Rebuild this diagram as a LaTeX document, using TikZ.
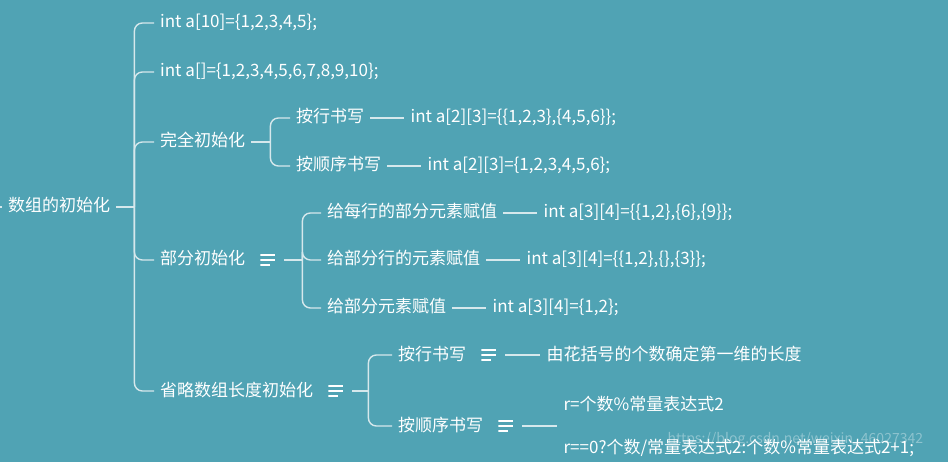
\documentclass[tikz,border=0pt]{standalone}
\usepackage{fontspec}
\setmainfont{Noto Sans CJK SC}
\usetikzlibrary{calc, positioning}
\definecolor{naodaobg}{RGB}{80,163,180}
\definecolor{naodaoxian}{RGB}{214,232,236}

\begin{document}
\begin{tikzpicture}[x=1pt, y=-1pt,
    font=\fontsize{17}{20}\selectfont,
    wenzi/.style={anchor=west, text=white, inner xsep=6pt, inner ysep=0pt},
    jiedian/.style={wenzi, text height=13pt, text depth=3pt},
    lianxian/.style={draw=naodaoxian, line width=1.4pt, rounded corners=8pt},
    beizhu/.style={minimum width=15pt, minimum height=12pt, inner sep=0pt, outer xsep=9pt,
      path picture={
        \draw[white, line width=1.8pt]
          ($(path picture bounding box.north west)+(0pt,-1pt)$) -- ($(path picture bounding box.north east)+(0pt,-1pt)$)
          (path picture bounding box.west) -- (path picture bounding box.east)
          ($(path picture bounding box.south west)+(0pt,1pt)$) -- ($(path picture bounding box.south east)+(-5pt,1pt)$);
      }},
    shuiyin/.style={anchor=west, text=white, opacity=0.35, font=\fontsize{14}{16}\selectfont}
  ]
    \fill[naodaobg] (0,0) rectangle (948,462);
    \useasboundingbox (0,0) rectangle (948,462);

    % root
    \coordinate (zuobian) at (0,207);
    \node[jiedian] (root) at (2,207) {数组的初始化};
    \draw[lianxian] (zuobian) -- (root.west);

    % level 1
    \node[jiedian] (a1) at (154,23)  {int a[10]=\{1,2,3,4,5\};};
    \node[jiedian] (a2) at (154,72)  {int a[]=\{1,2,3,4,5,6,7,8,9,10\};};
    \node[jiedian] (wq) at (154,142) {完全初始化};
    \node[jiedian] (bf) at (154,260) {部分初始化};
    \node[beizhu, right=0pt of bf] (bfbz) {};
    \node[jiedian] (sl) at (154,391) {省略数组长度初始化};
    \node[beizhu, right=0pt of sl] (slbz) {};

    \draw[lianxian] (root.east) -- ++(18,0) coordinate (rootfen);
    \foreach \n in {a1,a2,wq,bf,sl} \draw[lianxian] (rootfen) |- (\n.west);

    % 完全初始化
    \node[jiedian] (wqhang) at (290,118) {按行书写};
    \node[jiedian, right=34pt of wqhang] (wqhangdm) {int a[2][3]=\{\{1,2,3\},\{4,5,6\}\};};
    \node[jiedian] (wqshun) at (290,166) {按顺序书写};
    \node[jiedian, right=34pt of wqshun] (wqshundm) {int a[2][3]=\{1,2,3,4,5,6\};};

    \draw[lianxian] (wq.east) -- ++(19,0) coordinate (wqfen);
    \foreach \n in {wqhang,wqshun} \draw[lianxian] (wqfen) |- (\n.west);
    \draw[lianxian] (wqhang) -- (wqhangdm);
    \draw[lianxian] (wqshun) -- (wqshundm);

    % 部分初始化
    \node[jiedian] (bf1) at (321,213) {给每行的部分元素赋值};
    \node[jiedian, right=34pt of bf1] (bf1dm) {int a[3][4]=\{\{1,2\},\{6\},\{9\}\};};
    \node[jiedian] (bf2) at (321,260) {给部分行的元素赋值};
    \node[jiedian, right=34pt of bf2] (bf2dm) {int a[3][4]=\{\{1,2\},\{\},\{3\}\};};
    \node[jiedian] (bf3) at (321,308) {给部分元素赋值};
    \node[jiedian, right=34pt of bf3] (bf3dm) {int a[3][4]=\{1,2\};};

    \draw[lianxian] (bfbz.east) -- ++(18,0) coordinate (bffen);
    \foreach \n in {bf1,bf2,bf3} \draw[lianxian] (bffen) |- (\n.west);
    \foreach \n in {bf1,bf2,bf3} \draw[lianxian] (\n) -- (\n dm);

    % 省略数组长度初始化
    \node[jiedian] (slhang) at (392,355) {按行书写};
    \node[beizhu, right=0pt of slhang] (slhangbz) {};
    \node[jiedian, right=35pt of slhangbz] (slhangsm) {由花括号的个数确定第一维的长度};
    \node[jiedian] (slshun) at (392,426) {按顺序书写};
    \node[beizhu, right=0pt of slshun] (slshunbz) {};
    \node[wenzi, align=left, right=35pt of slshunbz] (slshunsm)
      {r=个数\%常量表达式2\\[23pt]r==0?个数/常量表达式2:个数\%常量表达式2+1;};

    \draw[lianxian] (slbz.east) -- ++(16,0) coordinate (slfen);
    \foreach \n in {slhang,slshun} \draw[lianxian] (slfen) |- (\n.west);
    \draw[lianxian] (slhangbz) -- (slhangsm);
    \draw[lianxian] (slshunbz) -- (slshunsm);

    % watermark
    \node[shuiyin] (shuiyin) at (664,440) {https://blog.csdn.net/weixin\_46027342};
  \end{tikzpicture}
\end{document}
